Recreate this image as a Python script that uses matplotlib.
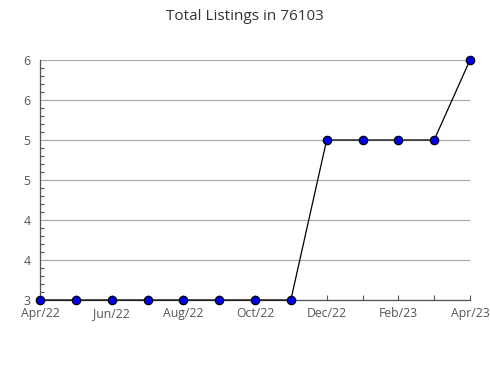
import matplotlib
matplotlib.use('Agg')
import matplotlib.pyplot as plt
from matplotlib.ticker import FuncFormatter, MultipleLocator
import math

# data
months = ['Apr/22', 'May/22', 'Jun/22', 'Jul/22', 'Aug/22', 'Sep/22', 'Oct/22',
          'Nov/22', 'Dec/22', 'Jan/23', 'Feb/23', 'Mar/23', 'Apr/23']
listings = [3, 3, 3, 3, 3, 3, 3, 3, 5, 5, 5, 5, 6]
y_ticks = [3, 3.5, 4, 4.5, 5, 5.5, 6]

plt.rcParams['font.family'] = ['Open Sans', 'DejaVu Sans']

fig = plt.figure(figsize=(4.9, 3.8), dpi=100)
ax = fig.add_axes([40 / 490, 1 - 300 / 380, 430 / 490, 240 / 380])

x = list(range(len(months)))
ax.plot(x, listings, color='black', lw=0.9, marker='o', ms=6,
        mfc='#0000ee', mec='black', mew=0.9, clip_on=False, zorder=5)

ax.set_xlim(0, len(months) - 1)
ax.set_ylim(3, 6)
ax.set_yticks(y_ticks)
ax.yaxis.set_minor_locator(MultipleLocator(0.1))
ax.yaxis.set_major_formatter(FuncFormatter(lambda v, p: '%d' % math.floor(v + 0.5)))
ax.set_xticks(x)
ax.set_xticklabels([m if i % 2 == 0 else '' for i, m in enumerate(months)])

ax.grid(axis='y', color='#aaaaaa', lw=0.9)
ax.set_axisbelow(True)
for s in ['top', 'right']:
    ax.spines[s].set_visible(False)
for s in ['left', 'bottom']:
    ax.spines[s].set_color('#555555')
    ax.spines[s].set_linewidth(0.9)

ax.tick_params(axis='x', which='major', labelsize=8.8, labelcolor='#555555',
               color='#555555', direction='in', length=3.6, width=0.8, pad=12.2)
for lbl in ax.get_xticklabels():
    lbl.set_va('baseline')
ax.tick_params(axis='y', which='major', labelsize=8.8, labelcolor='#555555',
               length=0, pad=7)
ax.tick_params(axis='y', which='minor', direction='in', length=3,
               color='#555555', width=0.8)

fig.suptitle('Total Listings in 76103', y=0.975, fontsize=11, color='#333333')

fig.savefig('out.png', dpi=100)
